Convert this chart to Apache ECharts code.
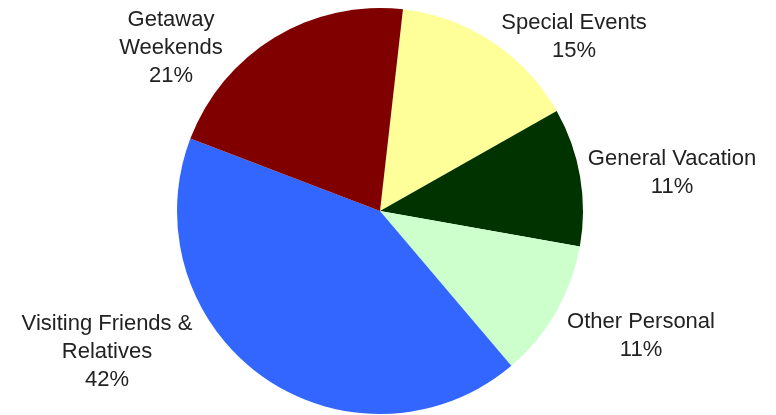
<!DOCTYPE html>
<html>
<head>
<meta charset="utf-8">
<script src="https://cdn.jsdelivr.net/npm/echarts@6/dist/echarts.min.js"></script>
<style>
html,body{margin:0;padding:0;background:#fff;}
#main{width:776px;height:415px;}
</style>
</head>
<body>
<div id="main"></div>
<script>
var categories = ['Special Events', 'General Vacation', 'Other Personal', 'Visiting Friends & Relatives', 'Getaway Weekends'];
var labelText = ['Special Events', 'General Vacation', 'Other Personal', 'Visiting Friends &\nRelatives', 'Getaway\nWeekends'];
var values = [15, 11, 11, 42, 21];
var colors = ['#FFFF99', '#003300', '#CCFFCC', '#3366FF', '#800000'];

var labelPos = [[574, 37], [672, 173], [641, 336], [107, 352], [171, 48]];

var chart = echarts.init(document.getElementById('main'), null, {renderer: 'canvas'});
chart.setOption({
  backgroundColor: '#ffffff',
  animation: false,
  series: [{
    type: 'pie',
    center: [380, 211],
    radius: 203,
    startAngle: 83.5,
    clockwise: true,
    avoidLabelOverlap: false,
    label: {
      show: true,
      position: 'outside',
      overflow: 'none',
      bleedMargin: 0,
      formatter: function (p) { return labelText[p.dataIndex] + '\n' + p.value + '%'; },
      fontFamily: 'Liberation Sans, Arial, sans-serif',
      fontSize: 22,
      lineHeight: 28,
      color: '#222222',
      align: 'center'
    },
    labelLine: {show: false},
    labelLayout: function (params) {
      var p = labelPos[params.dataIndex];
      return {x: p[0], y: p[1], align: 'center', verticalAlign: 'middle'};
    },
    itemStyle: {borderWidth: 0},
    emphasis: {disabled: true},
    data: categories.map(function (c, i) {
      return {name: c, value: values[i], itemStyle: {color: colors[i]}, label: {width: 260, overflow: 'none'}};
    })
  }]
});
</script>
</body>
</html>
